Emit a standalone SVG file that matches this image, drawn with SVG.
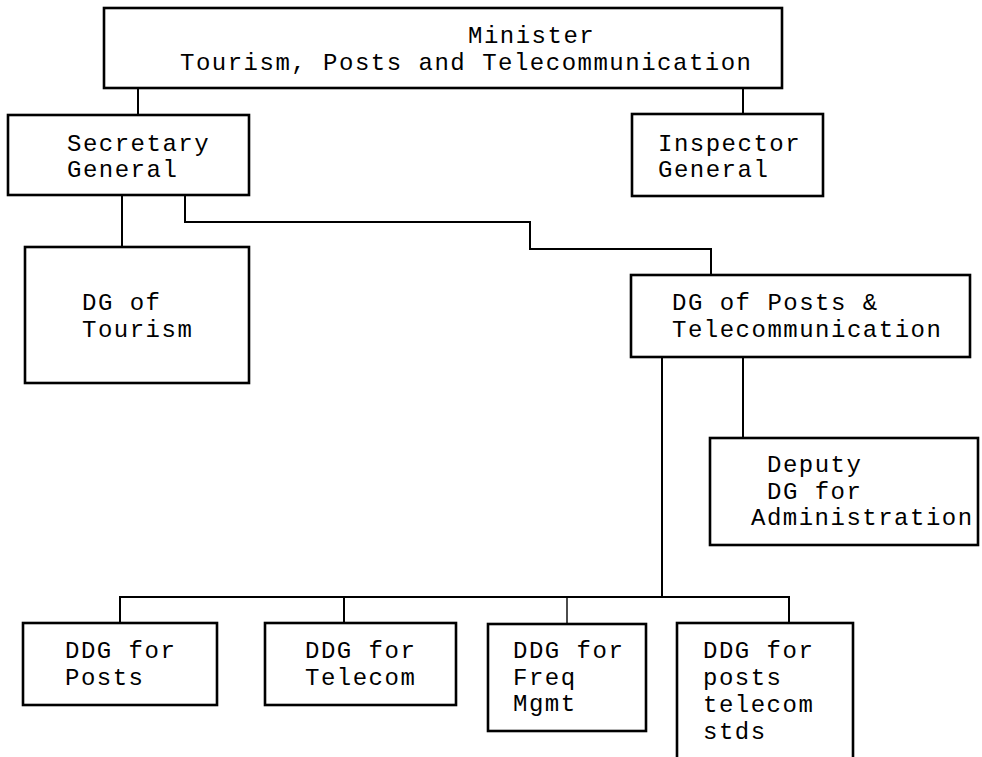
<svg xmlns="http://www.w3.org/2000/svg" width="982" height="757" viewBox="0 0 982 757">
<style>
.box{fill:#fff;stroke:#000;stroke-width:2.6}
.ln{fill:none;stroke:#000;stroke-width:2}
text{font-family:"Liberation Mono","DejaVu Sans Mono",monospace;font-size:24px;letter-spacing:1.5px;fill:#000}
</style>
<rect width="982" height="757" fill="#fff"/>
<g id="connectors">
<path class="ln" d="M138,88 V115"/>
<path class="ln" d="M743,88 V114"/>
<path class="ln" d="M122,195 V247"/>
<path class="ln" d="M185,195 V222 H530 V249 H711 V275"/>
<path class="ln" d="M662,357 V597"/>
<path class="ln" d="M743,357 V438"/>
<path class="ln" d="M120,623 V597 H789 V623"/>
<path class="ln" d="M344,597 V623"/>
<path class="ln" d="M567,597 V624" style="stroke-width:1.4"/>
</g>
<g id="minister">
<rect class="box" x="104" y="8" width="678" height="80"/>
<text x="468" y="43">Minister</text>
<text x="180" y="70">Tourism, Posts and Telecommunication</text>
</g>
<g id="secretary-general">
<rect class="box" x="8" y="115" width="241" height="80"/>
<text x="67" y="151">Secretary</text>
<text x="67" y="177">General</text>
</g>
<g id="inspector-general">
<rect class="box" x="632" y="114" width="191" height="82"/>
<text x="658" y="151">Inspector</text>
<text x="658" y="177">General</text>
</g>
<g id="dg-tourism">
<rect class="box" x="25" y="247" width="224" height="136"/>
<text x="82" y="310">DG of</text>
<text x="82" y="337">Tourism</text>
</g>
<g id="dg-posts">
<rect class="box" x="631" y="275" width="339" height="82"/>
<text x="672" y="310">DG of Posts &amp;</text>
<text x="672" y="337">Telecommunication</text>
</g>
<g id="deputy-dg">
<rect class="box" x="710" y="438" width="268" height="107"/>
<text x="767" y="472">Deputy</text>
<text x="767" y="499">DG for</text>
<text x="751" y="525">Administration</text>
</g>
<g id="ddg-posts">
<rect class="box" x="23" y="623" width="194" height="82"/>
<text x="65" y="658">DDG for</text>
<text x="65" y="685">Posts</text>
</g>
<g id="ddg-telecom">
<rect class="box" x="265" y="623" width="191" height="82"/>
<text x="305" y="658">DDG for</text>
<text x="305" y="685">Telecom</text>
</g>
<g id="ddg-freq">
<rect class="box" x="488" y="624" width="158" height="107"/>
<text x="513" y="658">DDG for</text>
<text x="513" y="685">Freq</text>
<text x="513" y="711">Mgmt</text>
</g>
<g id="ddg-stds">
<rect class="box" x="677" y="623" width="176" height="145"/>
<text x="703" y="658">DDG for</text>
<text x="703" y="685">posts</text>
<text x="703" y="712">telecom</text>
<text x="703" y="739">stds</text>
</g>
</svg>
